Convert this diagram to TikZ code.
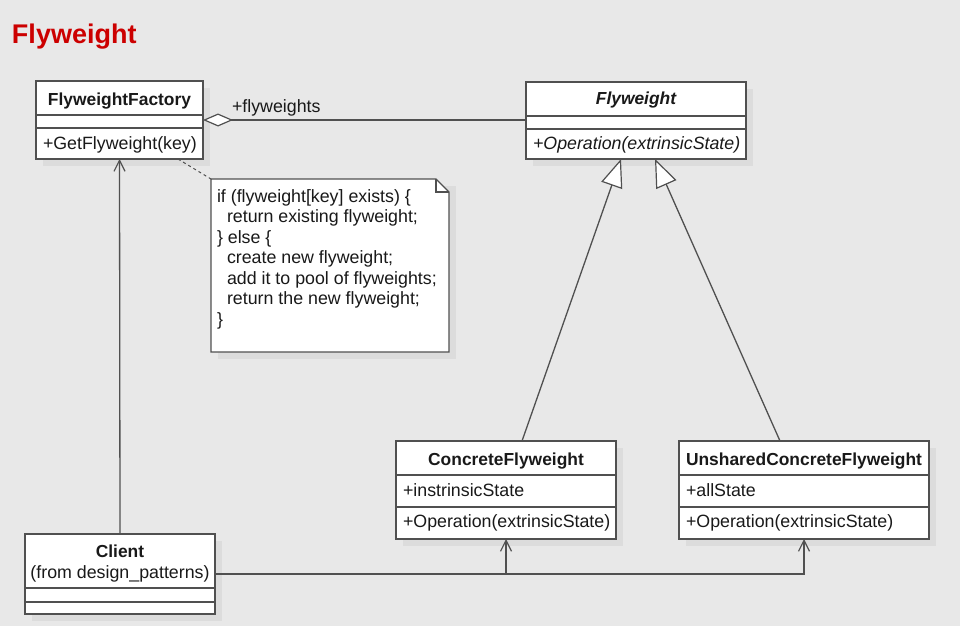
\documentclass[tikz,border=0pt]{standalone}
\usepackage{fontspec}
\setmainfont{Liberation Sans}
\usetikzlibrary{arrows.meta}
\definecolor{bg}{RGB}{232,232,232}
\definecolor{ln}{RGB}{80,80,80}
\definecolor{shd}{RGB}{220,220,220}
\definecolor{ttl}{RGB}{204,0,0}
\newcommand{\clsname}[1]{{\fontsize{17.4}{20.5}\selectfont\bfseries #1}}
\begin{document}
\begin{tikzpicture}[x=1pt,y=-1pt,
  cls/.style={draw=ln, line width=1.3pt, fill=white, inner sep=0pt, outer sep=0pt},
  sepline/.style={draw=ln, line width=1.2pt},
  shadowbox/.style={fill=shd},
  txt/.style={inner sep=0pt, outer sep=0pt, font=\fontsize{17.8}{20.5}\selectfont, text=black!90},
  conn/.style={draw=ln, line width=1.3pt},
  nav/.style={conn, -{Straight Barb[length=11pt,width=11pt,line width=1.2pt]}},
  gen/.style={conn, -{Triangle[open,length=28pt,width=22pt,fill=white,line width=1.2pt]}},
  agg/.style={conn, {Diamond[open,length=30pt,width=13pt,fill=white,line width=1.2pt]}-}
]
\useasboundingbox (0,0) rectangle (960,626);
\fill[bg] (0,0) rectangle (960,626);

% title
\node[txt, anchor=base west, font=\fontsize{27}{30}\selectfont\bfseries, text=ttl] (title) at (12,44) {Flyweight};

% shadows
\fill[shadowbox] (43,88) rectangle (210,166);
\fill[shadowbox] (533,89) rectangle (753,166);
\fill[shadowbox] (403,448) rectangle (623,546);
\fill[shadowbox] (686,448) rectangle (936,546);
\fill[shadowbox] (32,541) rectangle (222,621);
\fill[shadowbox] (218,186) rectangle (456,359);

% FlyweightFactory
\node[cls, minimum width=167pt, minimum height=78pt] (factory) at (119.5,120) {};
\draw[sepline] (factory.west |- 0,115) -- (factory.east |- 0,115);
\draw[sepline] (factory.west |- 0,128) -- (factory.east |- 0,128);
\node[txt, anchor=base] (factoryname) at (119.5,105) {\clsname{FlyweightFactory}};
\node[txt, anchor=base west] (factoryop) at (43,149) {+GetFlyweight(key)};

% Flyweight
\node[cls, minimum width=220pt, minimum height=77pt] (fw) at (636,120.5) {};
\draw[sepline] (fw.west |- 0,116) -- (fw.east |- 0,116);
\draw[sepline] (fw.west |- 0,129) -- (fw.east |- 0,129);
\node[txt, anchor=base] (fwname) at (636,104) {\clsname{\itshape Flyweight}};
\node[txt, anchor=base west] (fwop) at (533,149) {\itshape +Operation(extrinsicState)};

% ConcreteFlyweight
\node[cls, minimum width=220pt, minimum height=98pt] (cf) at (506,490) {};
\draw[sepline] (cf.west |- 0,475) -- (cf.east |- 0,475);
\draw[sepline] (cf.west |- 0,507) -- (cf.east |- 0,507);
\node[txt, anchor=base] (cfname) at (506,465) {\clsname{ConcreteFlyweight}};
\node[txt, anchor=base west] (cfattr) at (403,496) {+instrinsicState};
\node[txt, anchor=base west] (cfop) at (403,527) {+Operation(extrinsicState)};

% UnsharedConcreteFlyweight
\node[cls, minimum width=250pt, minimum height=98pt] (ucf) at (804,490) {};
\draw[sepline] (ucf.west |- 0,475) -- (ucf.east |- 0,475);
\draw[sepline] (ucf.west |- 0,507) -- (ucf.east |- 0,507);
\node[txt, anchor=base] (ucfname) at (804,465) {\clsname{UnsharedConcreteFlyweight}};
\node[txt, anchor=base west] (ucfattr) at (686,496) {+allState};
\node[txt, anchor=base west] (ucfop) at (686,527) {+Operation(extrinsicState)};

% Client
\node[cls, minimum width=190pt, minimum height=80pt] (client) at (120,574) {};
\draw[sepline] (client.west |- 0,588) -- (client.east |- 0,588);
\draw[sepline] (client.west |- 0,602) -- (client.east |- 0,602);
\node[txt, anchor=base] (clientname) at (120,557) {\clsname{Client}};
\node[txt, anchor=base] (clientfrom) at (120,578) {(from design\_patterns)};

% Note
\node[inner sep=0pt, outer sep=0pt, minimum width=238pt, minimum height=173pt] (note) at (330,265.5) {};
\draw[cls] (note.north west) -- ([xshift=-13pt]note.north east) -- ([yshift=-13pt]note.north east) -- (note.south east) -- (note.south west) -- cycle;
\draw[sepline, line width=1.1pt] ([xshift=-13pt]note.north east) -- ([xshift=-13pt,yshift=-13pt]note.north east) -- ([yshift=-13pt]note.north east);
\node[txt, anchor=base west, align=left] (notetext) at (217,325) {if (flyweight[key] exists) \{\\
\hspace*{10pt}return existing flyweight;\\
\} else \{\\
\hspace*{10pt}create new flyweight;\\
\hspace*{10pt}add it to pool of flyweights;\\
\hspace*{10pt}return the new flyweight;\\
\}};

% connectors
\draw[agg] (factory.east) -- (fw.west |- factory.east) node[txt, pos=0, anchor=base west, xshift=29pt, yshift=8pt] (rolelabel) {+flyweights};
\draw[conn, dashed, dash pattern=on 3pt off 3pt, line width=1pt] ([xshift=58.5pt]factory.south) -- (note.north west);
\draw[nav] (client.north) -- (factory.south);
\draw[nav] (client.east) -| (cf.south);
\draw[nav] (client.east) -| (ucf.south);
\draw[gen] ([xshift=16pt]cf.north) -- ([xshift=-15pt]fw.south);
\draw[gen] ([xshift=-24pt]ucf.north) -- ([xshift=19pt]fw.south);
\end{tikzpicture}
\end{document}
